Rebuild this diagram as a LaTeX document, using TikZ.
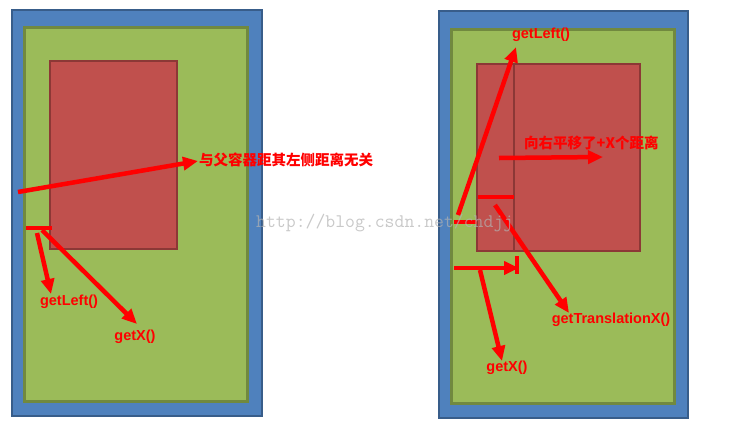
\documentclass[tikz,border=0pt]{standalone}
\usepackage{fontspec}
\setmainfont{Liberation Sans}
\newfontfamily\cjk{Noto Sans CJK SC}
\usetikzlibrary{arrows.meta}
\definecolor{outerblue}{HTML}{4F81BD}
\definecolor{outerline}{HTML}{385D8A}
\definecolor{innergreen}{HTML}{9BBB59}
\definecolor{innerline}{HTML}{71893F}
\definecolor{viewred}{HTML}{C0504D}
\definecolor{viewline}{HTML}{8C3836}
\tikzset{
    outerbox/.style={fill=outerblue, draw=outerline, line width=2pt},
    innerbox/.style={fill=innergreen, draw=innerline, line width=3pt},
    viewbox/.style={fill=viewred, draw=viewline, line width=2.5pt},
    mark line/.style={red, line width=4.5pt},
    pointer/.style={red, line width=4.5pt, -{Triangle[length=15pt,width=13pt]}},
    label/.style={text=red, font=\fontsize{14.5}{16}\selectfont\bfseries, inner sep=0pt},
    cjklabel/.style={text=red, font=\fontsize{14.5}{16}\selectfont\cjk\bfseries, inner sep=0pt}
}
\begin{document}
\begin{tikzpicture}[x=1pt, y=-1pt]
    \useasboundingbox (0, 0) rectangle (754, 426);
    % left: before
    \draw[outerbox] (12, 10) rectangle (262, 416);
    \draw[innerbox] (24, 27) rectangle (247, 401);
    \draw[viewbox] (50, 61) rectangle (177, 249);
    \coordinate (lstart) at (18, 192);
    \coordinate (ltip) at (198, 161);
    \node[cjklabel, anchor=west] (lnote) at (199, 160) {与父容器距其左侧距离无关};
    \draw[pointer] (lstart) -- (ltip);
    \coordinate (lgapa) at (26, 228);
    \coordinate (lgapb) at (52, 228);
    \draw[mark line] (lgapa) -- (lgapb);
    \node[label] (lleft) at (69, 302) {getLeft()};
    \node[label] (lx) at (135, 337) {getX()};
    \coordinate (lleftfrom) at (37, 233);
    \coordinate (lleftto) at (51, 294);
    \coordinate (lxfrom) at (42, 230);
    \coordinate (lxto) at (137, 324);
    \draw[pointer] (lleftfrom) -- (lleftto);
    \draw[pointer] (lxfrom) -- (lxto);
    % right: after translation
    \draw[outerbox] (439, 11) rectangle (688, 418);
    \draw[innerbox] (451, 29) rectangle (674, 403);
    \draw[viewbox] (477, 64) rectangle (640, 251);
    \coordinate (divtop) at (514, 64);
    \coordinate (divbot) at (514, 251);
    \draw[viewline, line width=2.5pt] (divtop) -- (divbot);
    \node[label] (rleft) at (541, 35) {getLeft()};
    \coordinate (rleftfrom) at (458, 215);
    \coordinate (rleftto) at (516, 47);
    \draw[pointer] (rleftfrom) -- (rleftto);
    \coordinate (rgapa) at (454, 222);
    \coordinate (rgapb) at (477, 222);
    \draw[mark line] (rgapa) -- (rgapb);
    \coordinate (rshifta) at (478, 197);
    \coordinate (rshiftb) at (514, 197);
    \draw[mark line] (rshifta) -- (rshiftb);
    \node[cjklabel, anchor=west] (rnote) at (524, 143) {向右平移了+X个距离};
    \coordinate (rmovefrom) at (499, 158);
    \coordinate (rmoveto) at (603, 157);
    \draw[pointer] (rmovefrom) -- (rmoveto);
    \node[label] (rtrans) at (611, 320) {getTranslationX()};
    \coordinate (rtransfrom) at (495, 205);
    \coordinate (rtransto) at (569, 313);
    \draw[pointer] (rtransfrom) -- (rtransto);
    \coordinate (rxa) at (454, 268);
    \coordinate (rxb) at (519, 268);
    \draw[pointer] (rxa) -- (rxb);
    \coordinate (rbartop) at (517, 256);
    \coordinate (rbarbot) at (517, 274);
    \draw[mark line] (rbartop) -- (rbarbot);
    \node[label] (rx) at (507, 368) {getX()};
    \coordinate (rxfrom) at (480, 270);
    \coordinate (rxto) at (502, 361);
    \draw[pointer] (rxfrom) -- (rxto);
    % watermark
    \node[text=black!30, opacity=0.7, font=\fontsize{19.2}{20}\selectfont\ttfamily, anchor=west, inner sep=0pt] (mark) at (256, 223) {http://blog.csdn.net/chdjj};
\end{tikzpicture}
\end{document}
